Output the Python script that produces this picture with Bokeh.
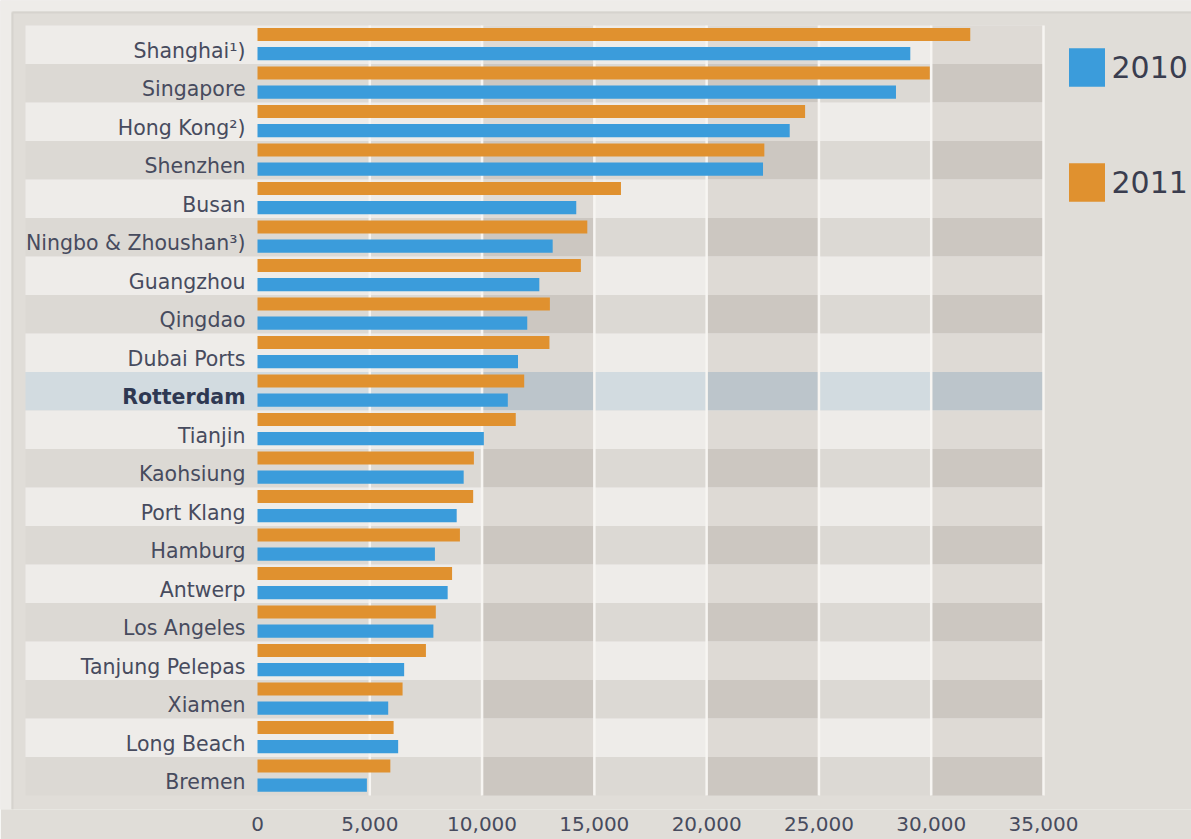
from bokeh.plotting import figure
from bokeh.models import (Range1d, ColumnDataSource, FixedTicker, NumeralTickFormatter,
                          Legend, LegendItem)
from bokeh.core.properties import value
from bokeh.embed import file_html
from bokeh.resources import INLINE

# ---------------- data (TEU x 1,000) ----------------
ports = ["Shanghai\u00b9)", "Singapore", "Hong Kong\u00b2)", "Shenzhen", "Busan",
         "Ningbo & Zhoushan\u00b3)", "Guangzhou", "Qingdao", "Dubai Ports", "Rotterdam",
         "Tianjin", "Kaohsiung", "Port Klang", "Hamburg", "Antwerp", "Los Angeles",
         "Tanjung Pelepas", "Xiamen", "Long Beach", "Bremen"]
teu_2010 = [29069, 28431, 23699, 22510, 14194, 13144, 12550, 12012, 11600, 11146,
            10080, 9181, 8870, 7900, 8468, 7832, 6530, 5820, 6263, 4871]
teu_2011 = [31739, 29937, 24384, 22569, 16185, 14686, 14400, 13020, 13000, 11876,
            11500, 9636, 9604, 9014, 8664, 7940, 7500, 6460, 6061, 5915]
highlight_port = "Rotterdam"
series_labels = ["2010", "2011"]
x_ticks = [0, 5000, 10000, 15000, 20000, 25000, 30000, 35000]
band_spans = [(10000, 15000), (20000, 25000), (30000, 35000)]

# ---------------- layout / style ----------------
W, H = 1191, 839
FRAME_H = 809
ZERO_PX, MAX_PX = 257, 1043
AXIS_MAX = x_ticks[-1]
SCALE = (MAX_PX - ZERO_PX) / AXIS_MAX          # px per unit
X_START = -ZERO_PX / SCALE
X_END = X_START + W / SCALE
ROW_PITCH = 38.5
FIRST_CENTER_PX = 44.25
Y_TOP = -FIRST_CENTER_PX / ROW_PITCH
Y_BOTTOM = Y_TOP + FRAME_H / ROW_PITCH


def px_x(px):
    return X_START + px / SCALE


def px_y(py):
    return Y_TOP + py / ROW_PITCH


BLUE = "#3b9cdb"
ORANGE = "#e0912f"
PANEL = "#e0ddd8"
OUTER = "#eeece9"
LIGHT_ROW = "#eeece9"
DARK_ROW = "#dcd9d4"
LIGHT_BAND = "#dedad5"
DARK_BAND = "#ccc7c1"
HL_ROW = "#d2dbe0"
HL_BAND = "#bcc5cb"
GRID = "#f7f5f2"
TEXT = "#474b5e"
FONT = "DejaVu Sans"

n = len(ports)
rows = list(range(n))

p = figure(width=W, height=H, output_backend="svg", toolbar_location=None,
           x_range=Range1d(X_START, X_END), y_range=Range1d(Y_BOTTOM, Y_TOP),
           y_axis_location=None, x_axis_location="below",
           min_border_left=0, min_border_right=0, min_border_top=0, min_border_bottom=30)
p.background_fill_color = PANEL
p.border_fill_color = PANEL
p.outline_line_color = None
p.grid.visible = False

# outer light frame (top and left strips) + thin edge
p.quad(left=[X_START, X_START], right=[X_END, px_x(11)],
       top=[Y_TOP, Y_TOP], bottom=[px_y(11), Y_BOTTOM],
       fill_color=OUTER, line_color=None)
p.segment(x0=[px_x(12), px_x(12)], y0=[px_y(12), px_y(12)],
          x1=[X_END, px_x(12)], y1=[px_y(12), Y_BOTTOM],
          line_color="#d6d3ce", line_width=2)

# row stripes
row_colors = []
band_colors = []
for i, name in enumerate(ports):
    if name == highlight_port:
        row_colors.append(HL_ROW)
        band_colors.append(HL_BAND)
    elif i % 2 == 0:
        row_colors.append(LIGHT_ROW)
        band_colors.append(LIGHT_BAND)
    else:
        row_colors.append(DARK_ROW)
        band_colors.append(DARK_BAND)

p.quad(left=[px_x(25)] * n, right=[AXIS_MAX] * n,
       top=[i - 0.5 for i in rows], bottom=[i + 0.5 for i in rows],
       fill_color=row_colors, line_color=None)

bl, br, bt, bb, bc = [], [], [], [], []
for i in rows:
    for (a, b) in band_spans:
        bl.append(a); br.append(b)
        bt.append(i - 0.5); bb.append(i + 0.5)
        bc.append(band_colors[i])
p.quad(left=bl, right=br, top=bt, bottom=bb, fill_color=bc, line_color=None)

# white vertical grid lines
gx = [t for t in x_ticks if t > 0]
p.segment(x0=gx, x1=gx, y0=[-0.5] * len(gx), y1=[n - 0.5] * len(gx),
          line_color=GRID, line_width=2.5)

# bars
src = ColumnDataSource(dict(
    y2010=[i + 0.23 for i in rows], y2011=[i - 0.265 for i in rows],
    v2010=teu_2010, v2011=teu_2011))
r2011 = p.hbar(y="y2011", left=0, right="v2011", height=0.34, source=src,
               fill_color=ORANGE, line_color=None)
r2010 = p.hbar(y="y2010", left=0, right="v2010", height=0.34, source=src,
               fill_color=BLUE, line_color=None)

# category labels
lab = ColumnDataSource(dict(
    x=[0] * n, y=[i + 0.15 for i in rows], text=ports,
    style=["bold" if s == highlight_port else "normal" for s in ports],
    color=["#2e3852" if s == highlight_port else TEXT for s in ports]))
p.text(x="x", y="y", text="text", source=lab, x_offset=-12,
       text_align="right", text_baseline="middle",
       text_font=value(FONT), text_font_size="20.5px",
       text_font_style="style", text_color="color")

# x axis
ax = p.xaxis[0]
ax.ticker = FixedTicker(ticks=x_ticks)
ax.formatter = NumeralTickFormatter(format="0,0")
ax.axis_line_color = None
ax.major_tick_line_color = None
ax.minor_tick_line_color = None
ax.major_tick_out = 0
ax.major_tick_in = 0
ax.major_label_standoff = 7
ax.major_label_text_font = FONT
ax.major_label_text_font_size = "20px"
ax.major_label_text_color = TEXT

# legend
legend = Legend(items=[LegendItem(label=series_labels[0], renderers=[r2010]),
                       LegendItem(label=series_labels[1], renderers=[r2011])],
                location=(1063.5, FRAME_H - 206), orientation="vertical",
                glyph_width=45, glyph_height=48, label_height=48, spacing=67,
                padding=0, margin=0, label_standoff=3,
                border_line_color=None, background_fill_alpha=0,
                label_text_font=FONT, label_text_font_size="30px",
                label_text_color="#3a3d4f")
p.add_layout(legend)

open("out.html", "w").write(file_html(p, INLINE))
